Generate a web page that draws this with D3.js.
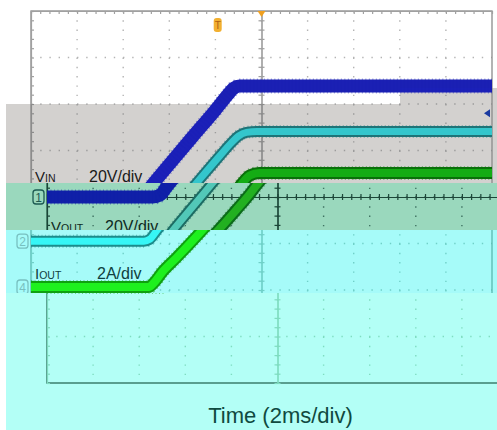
<!DOCTYPE html>
<html><head><meta charset="utf-8">
<script src="https://cdn.jsdelivr.net/npm/d3@7"></script>
<style>html,body{margin:0;padding:0;background:#fff;overflow:hidden}svg{display:block}</style>
</head><body>
<script>
// ---- data ----
const timeMs = [0, 4.6, 4.9, 5.2, 6, 7, 8, 8.5, 8.8, 9.05, 20];
const vinV   = [0, 0, 0.8, 4.5, 14, 25.8, 37.4, 43.5, 46.8, 47.7, 47.7];
const voutTime = [0, 4.9, 5.15, 5.45, 6.2, 7.2, 8.2, 8.7, 9.0, 9.35, 9.8, 20];
const voutV  = [0, 0, 0.8, 4.5, 13.4, 25.2, 36.8, 42.4, 45.2, 46.8, 47.2, 47.2];
const ioutTime = [0, 5.1, 5.35, 5.7, 6.3, 7.3, 8.2, 8.8, 9.15, 9.5, 9.9, 20];
const ioutA  = [0, 0, 0.2, 0.65, 1.25, 2.3, 3.3, 4.0, 4.45, 4.8, 4.9, 4.9];
const channelNames = ["V", "V", "I"];
const channelSubs  = ["IN", "OUT", "OUT"];
const channelScales = ["20V/div", "20V/div", "2A/div"];
const channelMarks = ["1", "2", "4"];
const xLabel = "Time (2ms/div)";

const W = 497, H = 430;
const svg = d3.select("body").append("svg").attr("width", W).attr("height", H);
svg.append("rect").attr("width", W).attr("height", H).attr("fill", "#fff");

const L = 31, R = 492, T = 11, B = 383;
const x = d3.scaleLinear().domain([0, 20]).range([L, R]);
const yVin  = d3.scaleLinear().domain([-80, 80]).range([B, T]);
const yVout = d3.scaleLinear().domain([-61, 99]).range([B, T]);
const yIout = d3.scaleLinear().domain([-4.13, 11.87]).range([B, T]);
const yDiv  = d3.scaleLinear().domain([-4, 4]).range([B, T]);

const palettes = {
  white: {grid:"#b4b4b4", border:"#8a8a8a", axis:"#a0a0a0", text:"#222",
          blue:"#1b20b4", tealEdge:"#1f7c80", teal:"#2ec3c8", greenEdge:"#0c7a0c", green:"#18b018", mark:"#1f6a6a"},
  gray:  {grid:"#9c9c9c", border:"#8a8a8a", axis:"#8c8c8c", text:"#1a1a1a",
          blue:"#1b20b8", tealEdge:"#1f7478", teal:"#34c6cc", greenEdge:"#0a700a", green:"#14ac14", mark:"#1f6a6a"},
  teal:  {grid:"#3f7262", border:"#2a5a4a", axis:"#1c4638", text:"#0d2a22",
          blue:"#1020a8", tealEdge:"#1d6c64", teal:"#52c8b8", greenEdge:"#0c6c1a", green:"#22b020", mark:"#1d5a52"},
  cyan:  {grid:"#70d0c8", border:"#5ab8b0", axis:"#70d0c8", text:"#0f4040",
          blue:"#2030c0", tealEdge:"#1c8c8c", teal:"#36f6f6", greenEdge:"#10a010", green:"#1ef01e", mark:"#78c0c0"},
  light: {grid:"#7fdcc0", border:"#2a6a58", axis:"#7fdcc0", text:"#104a40",
          blue:"#2030c0", tealEdge:"#1c8c8c", teal:"#36f6f6", greenEdge:"#10a010", green:"#1ef01e", mark:"#78c0c0"}
};

function drawScene(g, p, show) {
  const majorX = d3.range(0, 21, 2);
  const majorY = d3.range(-4, 5, 1);
  g.selectAll(null).data(majorX.slice(1, -1)).join("line")
    .attr("x1", d => x(d)).attr("x2", d => x(d)).attr("y1", T).attr("y2", B)
    .attr("stroke", p.grid).attr("stroke-width", 1.4).attr("stroke-dasharray", "1.4 7.9");
  g.selectAll(null).data(majorY.slice(1, -1)).join("line")
    .attr("y1", d => yDiv(d)).attr("y2", d => yDiv(d)).attr("x1", L).attr("x2", R)
    .attr("stroke", p.grid).attr("stroke-width", 1.4).attr("stroke-dasharray", "1.4 7.8");
  g.append("rect").attr("x", L).attr("y", T).attr("width", R - L).attr("height", B - T)
    .attr("fill", "none").attr("stroke", p.border).attr("stroke-width", 1.3);
  const minorX = d3.range(0, 20.01, 0.4), minorY = d3.range(-4, 4.01, 0.2);
  [[d3.axisBottom(x).tickValues(minorX), `translate(0,${yDiv(0)})`],
   [d3.axisTop(x).tickValues(minorX), `translate(0,${yDiv(0)})`],
   [d3.axisRight(yDiv).tickValues(minorY), `translate(${x(10)},0)`],
   [d3.axisLeft(yDiv).tickValues(minorY), `translate(${x(10)},0)`],
   [d3.axisBottom(x).tickValues(minorX), `translate(0,${T})`],
   [d3.axisRight(yDiv).tickValues(minorY), `translate(${L},0)`]].forEach(([a, tr]) => {
    a.tickSize(3).tickSizeOuter(0).tickFormat("");
    const s = g.append("g").attr("transform", tr).call(a);
    s.selectAll("text").remove();
    s.selectAll("path,line").attr("stroke", p.axis).attr("stroke-width", 1.2);
  });
  if (show.trigger) {
    g.append("rect").attr("x", x(8.1) - 4).attr("y", 18).attr("width", 8).attr("height", 14).attr("rx", 3)
      .attr("fill", "#f2b030");
    g.append("text").attr("x", x(8.1)).attr("y", 29).attr("text-anchor", "middle")
      .attr("font-family", "Liberation Sans, Arial").attr("font-size", 10).attr("fill", "#b06010").text("T");
    g.append("path").attr("d", `M${x(10) - 4},${T} L${x(10) + 4},${T} L${x(10)},${T + 6}Z`).attr("fill", "#f0a020");
  }
  g.append("path").attr("d", `M${R - 8},${yVin(36)} L${R - 2},${yVin(36) - 4} L${R - 2},${yVin(36) + 4}Z`).attr("fill", "#1a3aa0");

  const line = (xs, ys, yScale) => d3.line().curve(d3.curveMonotoneX)(xs.map((t, i) => [x(t), yScale(ys[i])]));
  const trace = (xs, ys, ys2, edge, fill, wE, wF) => {
    g.append("path").attr("d", line(xs, ys, ys2)).attr("fill", "none").attr("stroke", edge).attr("stroke-width", wE);
    g.append("path").attr("d", line(xs, ys, ys2)).attr("fill", "none").attr("stroke", edge).attr("stroke-width", wE + 2)
      .attr("stroke-dasharray", "1 2.5").attr("opacity", 0.45);
    if (fill) g.append("path").attr("d", line(xs, ys, ys2)).attr("fill", "none").attr("stroke", fill).attr("stroke-width", wF);
  };
  trace(ioutTime, ioutA, yIout, p.greenEdge, p.green, 12, 8);
  trace(voutTime, voutV, yVout, p.tealEdge, p.teal, 11, 7);
  trace(timeMs, vinV, yVin, p.blue, null, 13, 0);

  const grounds = [yVin(0), yVout(0), yIout(0)];
  const labelY = [182, 232, 279];
  channelNames.forEach((n, i) => {
    if (show.labels.includes(i)) {
      const t = g.append("text").attr("x", 35).attr("y", labelY[i])
        .attr("font-family", "Liberation Sans, Arial, sans-serif").attr("font-size", 15).attr("fill", p.text);
      t.append("tspan").text(n);
      t.append("tspan").attr("font-size", 10.5).text(channelSubs[i]);
      g.append("text").attr("x", i === 2 ? 97 : 89).attr("y", labelY[i])
        .attr("font-family", "Liberation Sans, Arial, sans-serif").attr("font-size", 16).attr("fill", p.text)
        .text(channelScales[i]);
    }
    if (show.marks.includes(i)) {
      g.append("rect").attr("x", 17).attr("y", grounds[i] - 7).attr("width", 11).attr("height", 14).attr("rx", 3)
        .attr("fill", "none").attr("stroke", p.mark).attr("stroke-width", 1.3);
      g.append("text").attr("x", 22.5).attr("y", grounds[i] + 5).attr("text-anchor", "middle")
        .attr("font-family", "Liberation Sans, Arial").attr("font-size", 12).attr("fill", p.mark).text(channelMarks[i]);
    }
  });
  if (show.xlabel) {
    g.append("text").attr("x", x(10) + 3).attr("y", 423).attr("text-anchor", "middle")
      .attr("font-family", "Liberation Sans, Arial, sans-serif").attr("font-size", 22).attr("fill", p.text)
      .text(xLabel);
  }
}

const bands = [
  {x0: 0, y0: 0, x1: 497, y1: 104, dx: 0, bg: "#ffffff", pal: "white", show: {trigger: true, labels: [], marks: []}},
  {x0: 400, y0: 88, x1: 497, y1: 104, dx: 0, bg: "#d3d1cf", pal: "gray", show: {labels: [], marks: []}},
  {x0: 6, y0: 104, x1: 497, y1: 183, dx: 0, bg: "#d3d1cf", pal: "gray", show: {labels: [0], marks: []}},
  {x0: 6, y0: 183, x1: 497, y1: 230, dx: 16, bg: "#9ad8bd", pal: "teal", show: {labels: [1], marks: [0]}},
  {x0: 6, y0: 230, x1: 497, y1: 293, dx: 0, bg: "#a6fbf9", pal: "cyan", show: {labels: [2], marks: [1, 2]}},
  {x0: 6, y0: 293, x1: 497, y1: 430, dx: 16, bg: "#b3fff6", pal: "light", show: {labels: [], marks: [], xlabel: true}}
];
const defs = svg.append("defs");
bands.forEach((b, i) => {
  defs.append("clipPath").attr("id", "band" + i).append("rect")
    .attr("x", b.x0).attr("y", b.y0).attr("width", b.x1 - b.x0).attr("height", b.y1 - b.y0);
  const outer = svg.append("g").attr("clip-path", `url(#band${i})`);
  outer.append("rect").attr("x", b.x0).attr("y", b.y0).attr("width", b.x1 - b.x0).attr("height", b.y1 - b.y0).attr("fill", b.bg);
  const inner = outer.append("g").attr("transform", `translate(${b.dx},0)`);
  drawScene(inner, palettes[b.pal], b.show);
});
</script>
</body></html>
